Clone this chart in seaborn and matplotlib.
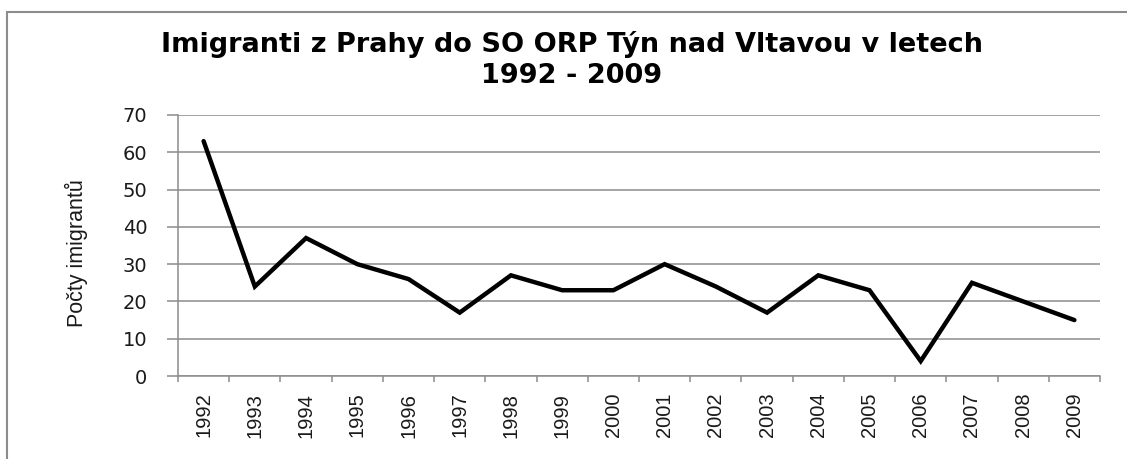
import matplotlib
matplotlib.use("Agg")
import matplotlib.pyplot as plt
import seaborn as sns
import pandas as pd
from matplotlib.patches import Rectangle
from matplotlib.ticker import FixedLocator, NullFormatter

years = ["1992", "1993", "1994", "1995", "1996", "1997", "1998", "1999", "2000",
         "2001", "2002", "2003", "2004", "2005", "2006", "2007", "2008", "2009"]
immigrants = [63, 24, 37, 30, 26, 17, 27, 23, 23, 30, 24, 17, 27, 23, 4, 25, 20, 15]
y_ticks = [0, 10, 20, 30, 40, 50, 60, 70]
title_line1 = "Imigranti z Prahy do SO ORP Týn nad Vltavou v letech"
title_line2 = "1992 - 2009"
y_label = "Počty imigrantů"

sns.set_style("white")
plt.rcParams["font.family"] = ["DejaVu Sans"]

W, H = 1127, 459
fig = plt.figure(figsize=(W / 100, H / 100), dpi=100)
fig.patch.set_facecolor("white")

left, right, top, bottom = 178, 1100, 115, 376
ax = fig.add_axes([left / W, 1 - bottom / H, (right - left) / W, (bottom - top) / H])

df = pd.DataFrame({"year": years, "value": immigrants})
sns.lineplot(data=df, x="year", y="value", ax=ax, color="black", linewidth=3.2,
             solid_joinstyle="miter")

ax.set_xlim(-0.5, len(years) - 0.5)
ax.set_ylim(0, 70)
ax.set_yticks(y_ticks)
ax.yaxis.grid(True, color="#8c8c8c", linewidth=1.1)
ax.xaxis.grid(False)
ax.set_axisbelow(True)

for s in ["top", "right"]:
    ax.spines[s].set_visible(False)
for s in ["left", "bottom"]:
    ax.spines[s].set_color("#8c8c8c")
    ax.spines[s].set_linewidth(1.1)

ax.tick_params(axis="y", which="major", left=True, length=8, width=1.1, color="#8c8c8c",
               pad=14, labelsize=14, labelcolor="#1a1a1a")
ax.set_yticklabels([str(v) for v in y_ticks], family=["DejaVu Sans"])

ax.set_xticks(range(len(years)))
ax.set_xticklabels(years, rotation=90, family=["Liberation Sans", "DejaVu Sans"],
                   fontsize=14.5, color="#1a1a1a")
ax.tick_params(axis="x", which="major", bottom=True, length=0, pad=12)
ax.xaxis.set_minor_locator(FixedLocator([i - 0.5 for i in range(len(years) + 1)]))
ax.xaxis.set_minor_formatter(NullFormatter())
ax.tick_params(axis="x", which="minor", bottom=True, length=4.5, width=1.1, color="#8c8c8c")

ax.set_xlabel("")
ax.set_ylabel(y_label, family=["Liberation Sans", "DejaVu Sans"], fontsize=15.5,
              color="#1a1a1a")
ax.yaxis.set_label_coords(-0.098, 0.47)

fig.text(572 / W, 1 - 52 / H, title_line1, ha="center", va="baseline",
         fontsize=19.5, fontweight="bold", color="black")
fig.text(572 / W, 1 - 83 / H, title_line2, ha="center", va="baseline",
         fontsize=19.5, fontweight="bold", color="black")

frame = Rectangle((7 / W, -0.2), 1.3, 1 - 12 / H + 0.2, transform=fig.transFigure,
                  fill=False, edgecolor="#8c8c8c", linewidth=1.5, clip_on=False)
fig.patches.append(frame)

fig.savefig("out.png", dpi=100, facecolor="white")
